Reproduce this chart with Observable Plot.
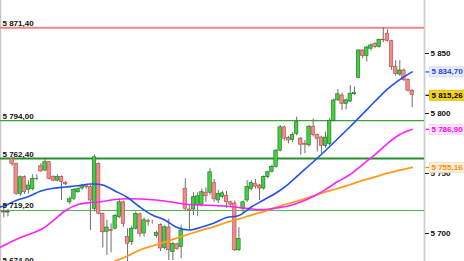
<!DOCTYPE html>
<html><head><meta charset="utf-8">
<script src="https://cdn.jsdelivr.net/npm/d3@7"></script>
<script src="https://cdn.jsdelivr.net/npm/@observablehq/plot@0.6"></script>
<style>
html,body{margin:0;padding:0;background:#fff;}
#chart svg{display:block;}
</style></head><body><div id="chart"></div>
<script>
// ---- candle data (15-min bars, index 0..99) ----
const opens = [5718,5717.5,5762.2,5758.1,5733,5747,5736.5,5737,5745.5,5756,
  5752.5,5759.4,5747,5744,5747,5742,5726,5729,5734.4,5737.5,
  5740,5738.6,5720.5,5758,5716.5,5701.5,5703,5704,5713.6,5726,
  5697,5692.7,5704,5716,5700,5710.5,5709.5,5698,5707,5688,
  5705,5684.5,5691,5688.6,5737.3,5720,5720,5723.5,5724,5734,
  5734,5742,5727.5,5730.5,5731.5,5726,5725,5686,5720.5,5727.5,
  5737,5741.5,5740,5737.5,5747,5751.5,5755.5,5769,5788.5,5779.5,
  5778,5783,5779,5774.5,5773.5,5789,5782,5780,5773,5774.75,
  5794,5811,5815,5808,5810,5816,5829.75,5852.5,5848,5854,
  5858,5855.5,5861.5,5866.5,5860.25,5838.6,5832.5,5835.8,5828,5819];
const highs = [5722,5720,5763.6,5758.6,5748,5748,5744,5749,5749,5758,
  5762.8,5760,5748,5749,5748,5743.5,5730.5,5737.5,5738,5741,
  5741,5740,5765.5,5759,5717,5711,5708,5716,5729,5727,
  5704,5706,5718,5717,5713,5712,5711,5702,5708,5706.5,
  5712,5692.5,5692,5707,5745.6,5724,5734,5734,5737,5738,
  5754,5745,5736,5735,5735,5727,5727,5705,5727,5744,
  5744,5745,5741,5748,5752,5757,5770,5790,5789.5,5781,
  5784,5797,5780,5777.5,5790,5795.5,5783,5781,5784.5,5796,
  5812,5820,5817,5812,5823.3,5822,5853,5853,5856,5858,
  5859,5862,5871.4,5869.75,5861,5844,5844,5837.25,5829,5820];
const lows = [5713,5714,5756,5731.7,5731,5732.5,5733,5735.5,5744,5751,
  5751.5,5744.5,5743.5,5743,5727.5,5740,5724,5727.5,5733.5,5736,
  5737,5702.5,5718,5715.5,5688,5681.7,5684,5703,5712.5,5705,
  5676.7,5690,5703,5697,5697,5706,5708,5696,5685,5686.5,
  5677.5,5677.5,5686,5679,5719,5703,5715,5714,5722,5726,
  5732,5726,5725,5729,5721,5722,5685,5685,5717,5726,
  5735.5,5737,5727.5,5736,5745.5,5750.5,5754.5,5768,5777,5774.75,
  5776,5781.5,5765,5766.5,5772,5780.5,5768,5766.4,5771,5773,
  5793,5810,5802.5,5803,5809,5815,5829,5845.6,5843,5852,
  5854,5854.5,5859,5859.5,5836,5831,5831,5826.5,5818,5804.75];
const closes = [5717.5,5718,5758.1,5733.1,5746.9,5734.4,5740,5745.6,5745.6,5751.7,
  5759.4,5745.6,5744,5747,5743,5741,5728.5,5736.4,5737,5740,
  5738.5,5727.5,5763.5,5716.5,5701,5705,5702,5714.5,5726,5708,
  5691.4,5704,5716.4,5699.5,5711,5709.5,5709.5,5700.5,5687.5,5705.2,
  5686,5691.4,5687,5702.5,5720.6,5719,5730.2,5731,5734.4,5731,
  5751,5728.5,5733,5733.5,5726,5724,5686,5695.5,5726,5738.6,
  5742,5739,5737.5,5747,5751,5755.5,5769,5788.5,5779,5777.5,
  5782,5792.75,5774,5774,5789,5782,5779,5773,5780,5794,
  5810.8,5816,5808,5811,5816.5,5817,5852.5,5848,5855,5856.7,
  5855.5,5861.4,5861,5860.5,5838.6,5833,5835.8,5828,5819,5815.26];

// ---- moving averages (at bar indices) ----
const maIndex = [-1,0,3,6,9,12,15,18,21,24,27,30,33,36,39,42,45,48,51,54,57,60,63,66,69,72,75,78,81,84,87,90,93,96,99];
const maBlue = [5722.1,5722.9,5727.5,5730.8,5735.4,5737.75,5738.75,5739.75,5741.25,5740.4,5735.4,5730,5722.1,5715.4,5711.25,5705,5702.9,5705.4,5708.75,5713.3,5715,5722.1,5727.9,5733.75,5741.25,5750.5,5759.6,5769.2,5779.2,5789.2,5799.6,5810.2,5820.4,5828.3,5834.7];
const maMagenta = [5688.3,5690,5695,5699.2,5703.3,5710.8,5719.2,5724.2,5725.8,5726.7,5728.3,5728.9,5728.75,5728.1,5727.1,5725.4,5724.2,5723.75,5723.3,5722.75,5721.7,5720.4,5720,5721.25,5722.9,5726.25,5730.8,5736.7,5743.3,5749.2,5757.5,5765.8,5775,5782.5,5786.9];
const maOrangeIndex = [26,27,30,33,36,39,42,45,48,51,54,57,60,63,66,69,72,75,78,81,84,87,90,93,96,99];
const maOrange = [5675.4,5677.1,5681.25,5686.25,5689.6,5692.9,5696.25,5699.6,5702.75,5705.8,5709.2,5712.1,5715.4,5718.3,5721.7,5725,5727.9,5731.25,5734.6,5737.5,5740.8,5744.2,5747.1,5750.25,5752.75,5755.16];

// ---- horizontal levels and axis ----
const levels = [5871.40, 5794.00, 5762.40, 5719.20, 5674.00];
const axisTicks = [5700, 5750, 5800, 5850];
const lastValues = [5834.70, 5815.26, 5786.90, 5755.16];

// ---- styles ----
const levelStyle = [
  {stroke: "#f08585", width: 2},
  {stroke: "#3aa33a", width: 1.3},
  {stroke: "#2a8c2a", width: 2},
  {stroke: "#4db34d", width: 1},
  {stroke: "#4db34d", width: 1}
];
const lastStyle = [
  {text: "#1d3df5", bg: "#e9eeff", border: "#c9d3fb"},
  {text: "#000000", bg: "#f5d21a", border: "#d9b400"},
  {text: "#ff00ff", bg: "#ffe8ff", border: "#f6c8f6"},
  {text: "#ff8a00", bg: "#fff1de", border: "#f8dcb8"}
];

const fmt = (v, dec) => {
  const s = v.toFixed(dec);
  const [a, b] = s.split(".");
  return a.replace(/\B(?=(\d{3})+(?!\d))/g, " ") + (b ? "," + b : "");
};

const candles = opens.map((o, i) => ({i, open: o, high: highs[i], low: lows[i], close: closes[i]}));
const blue = maIndex.map((i, k) => ({i, v: maBlue[k]}));
const magenta = maIndex.map((i, k) => ({i, v: maMagenta[k]}));
const orange = maOrangeIndex.map((i, k) => ({i, v: maOrange[k]}));
const xDomain = [-0.8, 101.99];

const chart = Plot.plot({
  width: 464,
  height: 261,
  marginLeft: 0,
  marginRight: 40,
  marginTop: 0,
  marginBottom: 0,
  x: {type: "linear", domain: xDomain, axis: null},
  y: {domain: [5676.67, 5894.17], axis: null},
  color: {type: "identity"},
  style: {fontFamily: "'Liberation Sans', Arial, sans-serif", fontSize: "8px", fontWeight: "bold", background: "#fff", color: "#000"},
  marks: [
    Plot.ruleX([xDomain[0]], {stroke: "#c8c8c8", strokeWidth: 1.5}),
    Plot.ruleX([xDomain[1]], {stroke: "#cfcfcf", strokeWidth: 1.8}),
    ...levels.map((lv, k) => Plot.ruleY([lv], {stroke: levelStyle[k].stroke, strokeWidth: levelStyle[k].width})),
    Plot.ruleX(candles, {x: "i", y1: "low", y2: "high", stroke: "#6e6e6e", strokeWidth: 1, clip: true}),
    Plot.rect(candles, {
      x1: d => d.i - 0.42, x2: d => d.i + 0.42,
      y1: "open", y2: "close",
      fill: d => d.close >= d.open ? "#3fd23f" : "#f28a8a",
      stroke: d => d.close >= d.open ? "#1d6b1d" : "#b04848",
      strokeWidth: 0.6, clip: true
    }),
    Plot.line(orange, {x: "i", y: "v", stroke: "#ff9a1c", strokeWidth: 1.8, curve: "catmull-rom", clip: true}),
    Plot.line(magenta, {x: "i", y: "v", stroke: "#ff20ff", strokeWidth: 1.6, curve: "catmull-rom", clip: true}),
    Plot.line(blue, {x: "i", y: "v", stroke: "#2050f0", strokeWidth: 1.6, curve: "catmull-rom", clip: true}),
    Plot.text(levels, {y: d => d, text: d => fmt(d, 2), frameAnchor: "left", textAnchor: "start", lineAnchor: "bottom", dx: 2, dy: -2, fill: "#111"}),
    Plot.axisY({anchor: "right", ticks: axisTicks, tickFormat: d => fmt(d, 0), tickSize: 4, tickPadding: 2, stroke: "#222", fill: "#111"}),
    Plot.text(lastValues, {y: d => d, text: d => fmt(d, 2), frameAnchor: "right", textAnchor: "start", dx: 7, fill: (d, k) => lastStyle[k].text})
  ]
});
document.getElementById("chart").append(chart);

// background boxes + coloured ticks behind the last-value labels
const lastStrings = lastValues.map(v => fmt(v, 2));
d3.select(chart).selectAll("text").each(function() {
  const k = lastStrings.indexOf(this.textContent.trim());
  if (k < 0) return;
  const bb = this.getBBox();
  const st = lastStyle[k];
  const g = this.parentNode;
  const tf = this.getAttribute("transform") || "";
  const cy = bb.y + bb.height / 2;
  const r = document.createElementNS("http://www.w3.org/2000/svg", "rect");
  r.setAttribute("transform", tf);
  r.setAttribute("x", bb.x - 2);
  r.setAttribute("y", bb.y - 0.5);
  r.setAttribute("width", bb.width + 4);
  r.setAttribute("height", bb.height + 1);
  r.setAttribute("fill", st.bg);
  r.setAttribute("stroke", st.border);
  r.setAttribute("stroke-width", 0.8);
  g.insertBefore(r, this);
  const l = document.createElementNS("http://www.w3.org/2000/svg", "line");
  l.setAttribute("transform", tf);
  l.setAttribute("x1", bb.x - 6); l.setAttribute("x2", bb.x - 2.5);
  l.setAttribute("y1", cy); l.setAttribute("y2", cy);
  l.setAttribute("stroke", st.text); l.setAttribute("stroke-width", 1.2);
  g.insertBefore(l, this);
});
</script></body></html>
